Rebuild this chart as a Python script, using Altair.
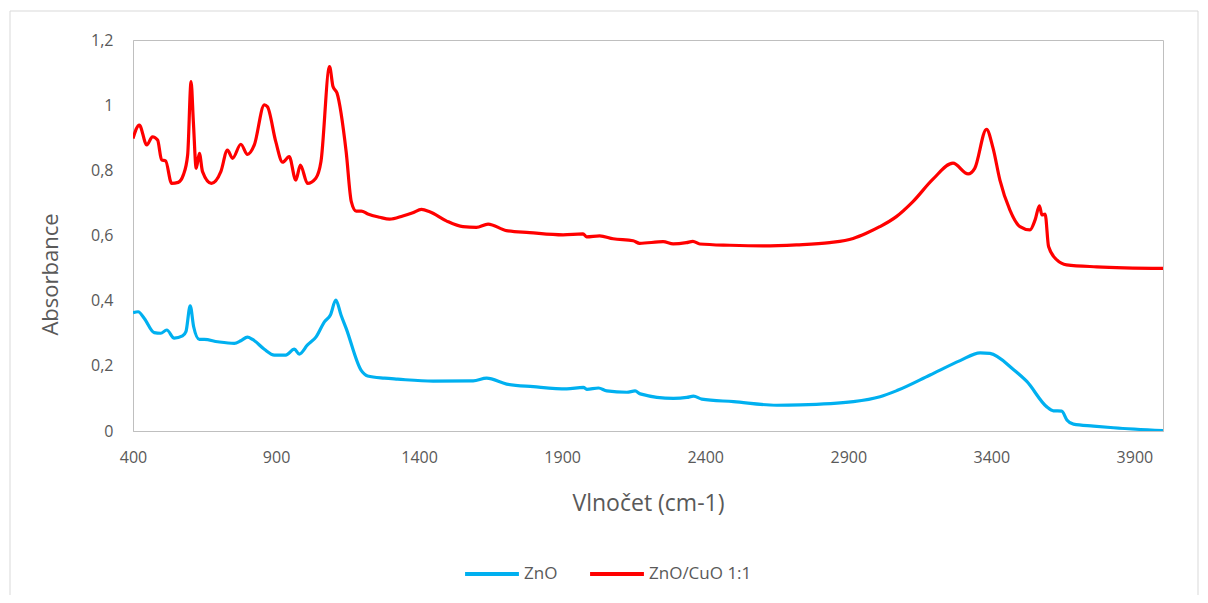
import altair as alt
import pandas as pd

series_names = ["ZnO", "ZnO/CuO 1:1"]
series_colors = ["#00B0F0", "#FF0000"]

zno_wn = [400, 418, 439, 474, 497, 518, 544, 573, 585, 600, 612, 632, 649, 696, 754, 777, 800, 818,
          859, 894, 934, 964, 981, 1010, 1040, 1069, 1090, 1109, 1127, 1145, 1197, 1220, 1279, 1325,
          1449, 1589, 1636, 1706, 1799, 1916, 1974, 1986, 2027, 2056, 2126, 2155, 2173, 2289, 2336,
          2359, 2388, 2499, 2650, 2732, 2918, 3011, 3070, 3186, 3291, 3361, 3395, 3477, 3524, 3594,
          3617, 3646, 3664, 3687, 3757, 3827, 4000]
zno_abs = [0.363, 0.366, 0.346, 0.302, 0.300, 0.310, 0.285, 0.292, 0.305, 0.384, 0.320, 0.281, 0.281,
           0.274, 0.269, 0.277, 0.288, 0.281, 0.251, 0.233, 0.233, 0.251, 0.236, 0.264, 0.289, 0.335,
           0.356, 0.402, 0.356, 0.315, 0.187, 0.169, 0.162, 0.159, 0.153, 0.154, 0.162, 0.144, 0.136,
           0.129, 0.134, 0.128, 0.132, 0.123, 0.119, 0.123, 0.114, 0.100, 0.103, 0.107, 0.098, 0.090,
           0.079, 0.080, 0.090, 0.105, 0.124, 0.172, 0.216, 0.240, 0.238, 0.189, 0.152, 0.074, 0.062,
           0.061, 0.034, 0.021, 0.015, 0.010, 0.001]

cuo_wn = [400, 422, 448, 468, 486, 500, 514, 535, 558, 576, 591, 603, 611, 621, 632, 643, 674, 707,
          730, 748, 777, 800, 824, 859, 870, 899, 923, 946, 969, 985, 1010, 1039, 1057, 1087, 1099,
          1113, 1145, 1163, 1180, 1198, 1221, 1262, 1297, 1343, 1378, 1408, 1437, 1495, 1553, 1600,
          1641, 1705, 1786, 1903, 1973, 1985, 2031, 2078, 2148, 2171, 2253, 2288, 2334, 2357, 2381,
          2486, 2602, 2719, 2835, 2917, 2963, 3010, 3068, 3126, 3196, 3266, 3319, 3342, 3383, 3406,
          3430, 3465, 3500, 3535, 3553, 3568, 3577, 3588, 3600, 3629, 3663, 3768, 4000]
cuo_abs = [0.898, 0.939, 0.878, 0.903, 0.893, 0.832, 0.829, 0.760, 0.763, 0.786, 0.847, 1.072, 0.949,
           0.806, 0.852, 0.796, 0.760, 0.796, 0.862, 0.837, 0.880, 0.849, 0.878, 1.001, 0.995, 0.888,
           0.825, 0.842, 0.770, 0.816, 0.760, 0.776, 0.827, 1.118, 1.057, 1.037, 0.857, 0.704, 0.675,
           0.675, 0.666, 0.656, 0.650, 0.660, 0.670, 0.680, 0.673, 0.645, 0.627, 0.625, 0.635, 0.615,
           0.609, 0.602, 0.605, 0.596, 0.599, 0.590, 0.584, 0.576, 0.581, 0.574, 0.578, 0.582, 0.574,
           0.570, 0.568, 0.571, 0.578, 0.591, 0.607, 0.627, 0.658, 0.704, 0.773, 0.822, 0.789, 0.806,
           0.926, 0.868, 0.770, 0.678, 0.627, 0.617, 0.648, 0.691, 0.663, 0.666, 0.566, 0.525, 0.510,
           0.504, 0.499]

x_ticks = [400, 900, 1400, 1900, 2400, 2900, 3400, 3900]
y_ticks = [0, 0.2, 0.4, 0.6, 0.8, 1, 1.2]

df = pd.concat([
    pd.DataFrame({"wn": zno_wn, "a": zno_abs, "series": series_names[0]}),
    pd.DataFrame({"wn": cuo_wn, "a": cuo_abs, "series": series_names[1]}),
])

FONT = "Open Sans"
GRAY = "#595959"

lines = alt.Chart(df).mark_line(strokeWidth=3.2, clip=True, strokeJoin="round",
                                interpolate="monotone").encode(
    x=alt.X("wn:Q",
            scale=alt.Scale(domain=[400, 4000], nice=False, zero=False),
            axis=alt.Axis(values=x_ticks, format="d", title="Vlnočet (cm-1)", grid=False, ticks=False,
                          labelPadding=18, labelFontSize=16, labelColor=GRAY, labelFont=FONT,
                          titleFontSize=23, titleFontWeight="normal", titleColor=GRAY, titleFont=FONT,
                          titleY=72, titleBaseline="middle",
                          domainColor="#BFBFBF", labelFlush=False)),
    y=alt.Y("a:Q",
            scale=alt.Scale(domain=[0, 1.2], nice=False),
            axis=alt.Axis(values=y_ticks, title="Absorbance", grid=False, ticks=False,
                          labelExpr="replace(format(datum.value, '~g'), '.', ',')",
                          labelPadding=20, labelFontSize=16, labelColor=GRAY, labelFont=FONT,
                          titleFontSize=22, titleFontWeight="normal", titleColor=GRAY, titleFont=FONT,
                          titleX=-83, titleY=234, titleAngle=270, titleAlign="center",
                          titleBaseline="middle",
                          domainColor="#BFBFBF")),
    color=alt.Color("series:N",
                    scale=alt.Scale(domain=series_names, range=series_colors),
                    legend=alt.Legend(title=None, orient="none", direction="horizontal",
                                      legendX=330, legendY=505,
                                      symbolType="stroke", symbolSize=2900, symbolStrokeWidth=4,
                                      labelFontSize=17, labelColor=GRAY, labelFont=FONT,
                                      labelOffset=3, columnPadding=24)),
)

frame = alt.Chart(pd.DataFrame({"k": [0]})).mark_rect(
    filled=False, stroke="#D9D9D9", strokeWidth=1, clip=False
).encode(
    x=alt.value(-123), x2=alt.value(1065), y=alt.value(-29), y2=alt.value(640)
)

chart = alt.layer(frame, lines).properties(
    width=1030, height=391,
    padding={"left": 125, "top": 32, "right": 37, "bottom": 164},
    autosize=alt.AutoSizeParams(type="none"),
).configure_view(stroke="#BFBFBF", strokeWidth=1)

chart.save("out.html", embed_options={"renderer": "svg", "actions": False})
